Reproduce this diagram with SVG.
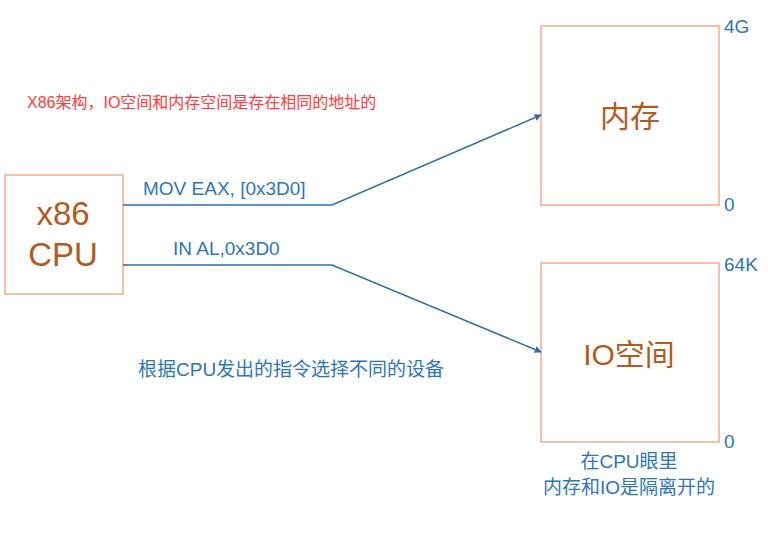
<svg xmlns="http://www.w3.org/2000/svg" width="768" height="536" viewBox="0 0 768 536">
<style>
.box{fill:#fff;stroke:#f7a98a;stroke-width:1.5}
.big{font-family:"Liberation Sans","Noto Sans CJK SC",sans-serif;fill:#b35a1f;text-anchor:middle}
.lbl{font-family:"Liberation Sans","Noto Sans CJK SC",sans-serif;font-size:19px;fill:#2e75b6}
.conn{fill:none;stroke:#2f6fa5;stroke-width:1.5}
</style>
<defs>
<marker id="arr" viewBox="0 0 10 10" refX="9" refY="5" markerWidth="7" markerHeight="7" orient="auto" markerUnits="userSpaceOnUse">
<path d="M0,0 L10,5 L0,10 z" fill="#2f6fa5"/>
</marker>
</defs>
<rect width="768" height="536" fill="#fff"/>
<text x="27" y="108" style="font-family:'Liberation Sans','Noto Sans CJK SC',sans-serif;font-size:16px;fill:#ff3b3b">X86架构，IO空间和内存空间是存在相同的地址的</text>
<g id="cpu">
<rect class="box" x="5" y="175" width="118" height="119"/>
<text class="big" x="63" y="225" font-size="33">x86</text>
<text class="big" x="63" y="266" font-size="33">CPU</text>
</g>
<g id="mem">
<rect class="box" x="541" y="26" width="178" height="179"/>
<text class="big" x="630" y="127" font-size="30">内存</text>
<text class="lbl" x="724" y="33">4G</text>
<text class="lbl" x="724" y="211">0</text>
</g>
<g id="io">
<rect class="box" x="541" y="263" width="178" height="179"/>
<text class="big" x="629" y="365" font-size="30">IO空间</text>
<text class="lbl" x="724" y="271">64K</text>
<text class="lbl" x="724" y="448">0</text>
</g>
<g id="connectors">
<polyline class="conn" points="123,205 332,205 541,115" marker-end="url(#arr)"/>
<polyline class="conn" points="123,265 332,265 541,352" marker-end="url(#arr)"/>
</g>
<text class="lbl" x="143" y="195">MOV EAX, [0x3D0]</text>
<text class="lbl" x="173" y="255">IN AL,0x3D0</text>
<text class="lbl" x="138" y="376">根据CPU发出的指令选择不同的设备</text>
<text class="lbl" x="629" y="468" text-anchor="middle">在CPU眼里</text>
<text class="lbl" x="629" y="494" text-anchor="middle">内存和IO是隔离开的</text>
</svg>
